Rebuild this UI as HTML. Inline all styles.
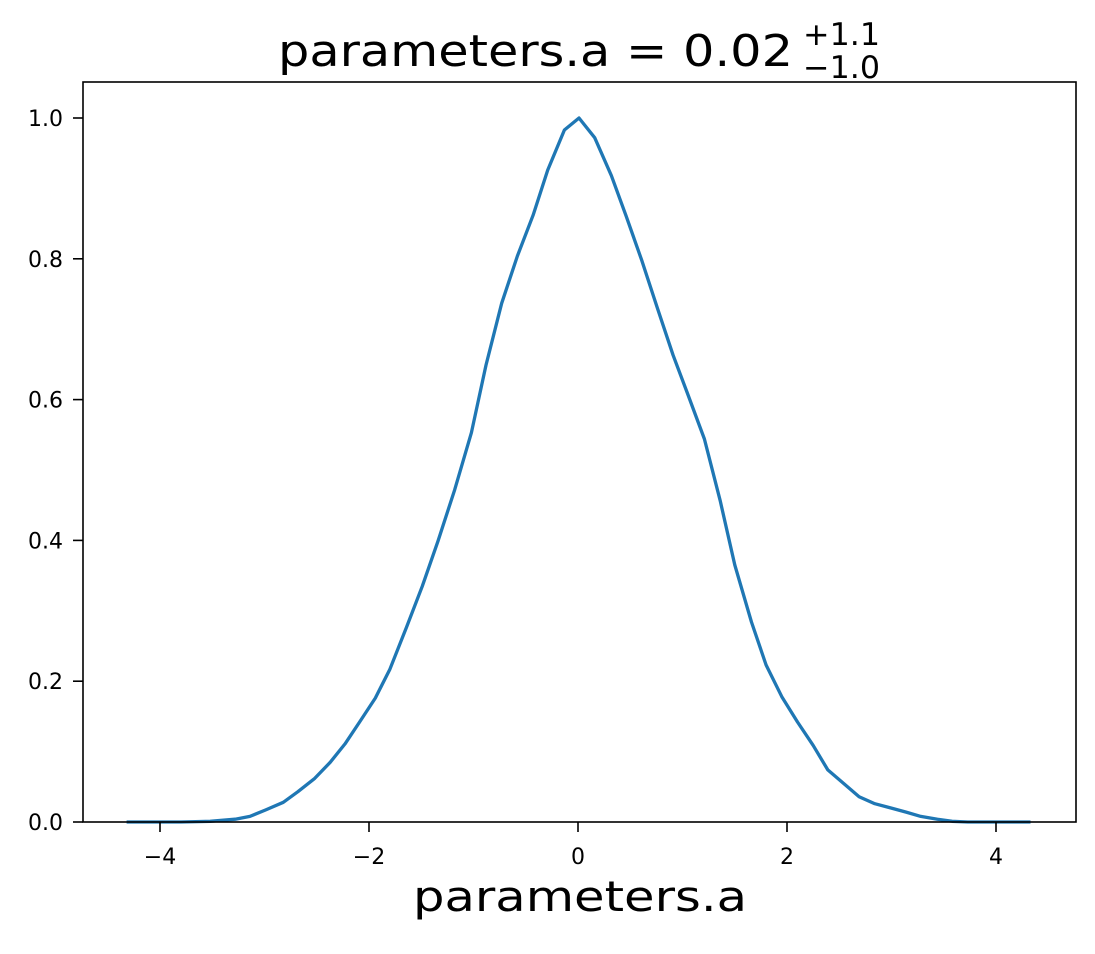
<!DOCTYPE html>
<html><head><meta charset="utf-8"><style>
body{margin:0;background:#fff;}
svg text{font-family:"DejaVu Sans","Liberation Sans",sans-serif;}
</style></head><body>
<svg id="chart" width="1095" height="949" xmlns="http://www.w3.org/2000/svg">
<rect width="1095" height="949" fill="#fff"/>
<g id="title">
<text x="278" y="66" font-size="44" textLength="515" lengthAdjust="spacingAndGlyphs">parameters.a = 0.02</text>
<text x="803" y="45" font-size="31" textLength="77" lengthAdjust="spacingAndGlyphs">+1.1</text>
<text x="803" y="78" font-size="31" textLength="77" lengthAdjust="spacingAndGlyphs">−1.0</text>
</g>
<g id="plot"></g>
<text x="413" y="911" font-size="42" textLength="334" lengthAdjust="spacingAndGlyphs">parameters.a</text>
</svg>
<script>
const xs = [-4.32,-3.8,-3.52,-3.28,-3.14,-2.99,-2.82,-2.68,-2.52,-2.37,-2.23,-2.09,-1.94,-1.80,-1.64,-1.49,-1.34,-1.18,-1.02,-0.88,-0.73,-0.58,-0.43,-0.29,-0.13,0.01,0.16,0.32,0.46,0.61,0.76,0.91,1.05,1.21,1.36,1.50,1.66,1.80,1.95,2.10,2.25,2.39,2.54,2.69,2.84,2.99,3.14,3.28,3.44,3.58,3.73,4.33];
const ys = [0,0,0.001,0.004,0.008,0.017,0.028,0.043,0.062,0.085,0.111,0.142,0.176,0.217,0.277,0.335,0.399,0.472,0.553,0.649,0.737,0.804,0.862,0.926,0.983,1.0,0.972,0.918,0.861,0.798,0.730,0.663,0.608,0.544,0.457,0.365,0.284,0.223,0.178,0.142,0.109,0.074,0.055,0.036,0.026,0.020,0.014,0.008,0.004,0.001,0,0];
const xTicks = [-4,-2,0,2,4];
const yTicks = [0.0,0.2,0.4,0.6,0.8,1.0];
const L=83,R=1076,T=82,B=822;
const X=v=>578+v*104.5;
const Y=v=>822-v*704;
const NS="http://www.w3.org/2000/svg";
const g=document.getElementById('plot');
function mk(t,a){const e=document.createElementNS(NS,t);for(const k in a)e.setAttribute(k,a[k]);g.appendChild(e);return e;}
let d=xs.map((x,i)=>(i?'L':'M')+X(x).toFixed(1)+','+Y(ys[i]).toFixed(1)).join(' ');
const line=mk('path',{d:d,fill:'none',stroke:'#1f77b4','stroke-width':3.3,'stroke-linejoin':'round'});


const frame=mk('rect',{x:L,y:T,width:R-L,height:B-T,fill:'none',stroke:'#000','stroke-width':1.6});


xTicks.forEach(v=>{
  const tk=mk('line',{x1:X(v),x2:X(v),y1:B,y2:B+10,stroke:'#000','stroke-width':1.6});
  
  
  const t=mk('text',{x:X(v),y:864,'font-size':22,'text-anchor':'middle'});
  t.textContent=(v<0?'−':'')+Math.abs(v);
  
  
});
yTicks.forEach(v=>{
  const tk=mk('line',{x1:L-10,x2:L,y1:Y(v),y2:Y(v),stroke:'#000','stroke-width':1.6});
  
  
  const t=mk('text',{x:63,y:Y(v)+8,'font-size':22,'text-anchor':'end'});
  t.textContent=v.toFixed(1);
  
  
});
</script>
</body></html>
